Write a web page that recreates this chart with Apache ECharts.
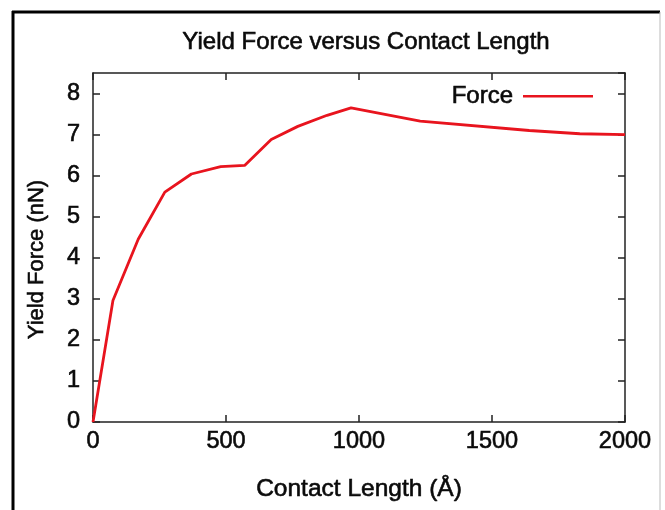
<!DOCTYPE html>
<html>
<head>
<meta charset="utf-8">
<script src="https://cdn.jsdelivr.net/npm/echarts@6/dist/echarts.min.js"></script>
<style>html,body{margin:0;padding:0;background:#fff}#c{width:665px;height:510px}</style>
</head>
<body>
<div id="c"></div>
<script>
const contactLength = [0, 75, 170, 270, 370, 480, 570, 670, 770, 880, 970, 1230, 1640, 1830, 2000];
const yieldForce = [0, 2.96, 4.45, 5.6, 6.04, 6.22, 6.25, 6.88, 7.2, 7.47, 7.65, 7.33, 7.1, 7.02, 7.0];
const xTicks = [0, 500, 1000, 1500, 2000];
const yTicks = [0, 1, 2, 3, 4, 5, 6, 7, 8];

const chart = echarts.init(document.getElementById('c'), null, {renderer: 'canvas'});
const FONT = 'Liberation Sans, Arial, sans-serif';
const TXT = '#0a0a0a';
const heavy = {textBorderColor: TXT, textBorderWidth: 0.6};
const axisLineStyle = {color: '#222', width: 1.5};
const tickStyle = {show: true, inside: true, length: 7, lineStyle: {color: '#222', width: 1.5}};

const data = contactLength.map((x, i) => [x, yieldForce[i]]);

chart.setOption({
  backgroundColor: '#fff',
  animation: false,
  title: {
    text: 'Yield Force versus Contact Length',
    left: 361, top: 25, textAlign: 'center',
    textStyle: Object.assign({fontFamily: FONT, fontSize: 24, fontWeight: 'normal', color: TXT}, heavy)
  },
  legend: {
    data: ['Force'],
    right: 67, top: 79,
    align: 'right',
    icon: 'rect',
    itemWidth: 70, itemHeight: 2.5,
    textStyle: Object.assign({fontFamily: FONT, fontSize: 24, color: TXT, padding: [0, 5, 0, 0]}, heavy)
  },
  grid: {left: 93, right: 40, top: 73, bottom: 88, containLabel: false},
  xAxis: [{
    type: 'value', min: xTicks[0], max: xTicks[xTicks.length - 1], interval: 500,
    position: 'bottom',
    name: 'Contact Length (\u00C5)', nameLocation: 'middle', nameGap: 55,
    nameTextStyle: Object.assign({fontFamily: FONT, fontSize: 24.5, color: TXT}, heavy),
    axisLine: {show: true, onZero: false, lineStyle: axisLineStyle},
    axisTick: tickStyle,
    axisLabel: Object.assign({fontFamily: FONT, fontSize: 23.5, color: TXT, margin: 8,
      formatter: v => String(v)}, heavy),
    splitLine: {show: false}
  }, {
    type: 'value', min: xTicks[0], max: xTicks[xTicks.length - 1], interval: 500,
    position: 'top',
    axisLine: {show: true, onZero: false, lineStyle: axisLineStyle},
    axisTick: tickStyle,
    axisLabel: {show: false},
    splitLine: {show: false}
  }],
  yAxis: [{
    type: 'value', min: yTicks[0], max: 8.5, interval: 1,
    position: 'left',
    name: 'Yield Force (nN)', nameLocation: 'middle', nameGap: 45,
    nameTextStyle: Object.assign({fontFamily: FONT, fontSize: 22, color: TXT, padding: [0, 24, 0, 0]}, heavy),
    axisLine: {show: true, onZero: false, lineStyle: axisLineStyle},
    axisTick: tickStyle,
    axisLabel: Object.assign({fontFamily: FONT, fontSize: 23.5, color: TXT, margin: 13, showMaxLabel: false,
      formatter: v => (yTicks.indexOf(v) >= 0 ? String(v) : '')}, heavy),
    splitLine: {show: false}
  }, {
    type: 'value', min: yTicks[0], max: 8.5, interval: 1,
    position: 'right',
    axisLine: {show: true, onZero: false, lineStyle: axisLineStyle},
    axisTick: tickStyle,
    axisLabel: {show: false},
    splitLine: {show: false}
  }],
  series: [{
    name: 'Force',
    type: 'line',
    xAxisIndex: 0, yAxisIndex: 0,
    data: data,
    symbol: 'none',
    lineStyle: {color: '#e8141e', width: 2.8},
    itemStyle: {color: '#e8141e'}
  }],
  graphic: [
    {type: 'line', shape: {x1: 13, y1: 11, x2: 13, y2: 510}, style: {stroke: '#000', lineWidth: 3}},
    {type: 'line', shape: {x1: 12, y1: 12, x2: 660, y2: 12}, style: {stroke: '#000', lineWidth: 3}},
    {type: 'line', shape: {x1: 660, y1: 12, x2: 660, y2: 510}, style: {stroke: '#bbb', lineWidth: 1}}
  ]
});
</script>
</body>
</html>
